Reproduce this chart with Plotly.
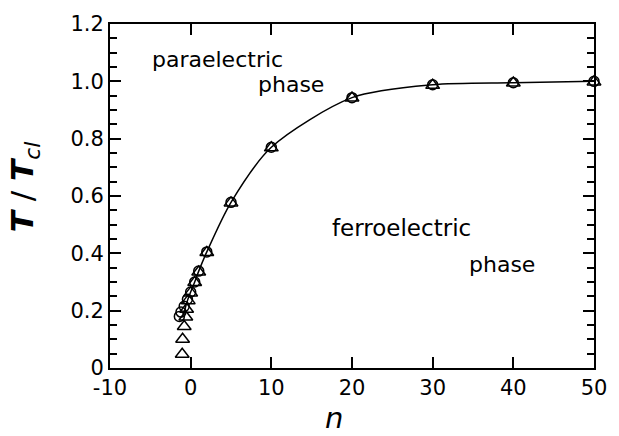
import plotly.graph_objects as go

# data
n_circ = [50, 40, 30, 20, 10, 5, 2, 1, 0.5, 0, -0.4, -0.8, -1.2, -1.4]
t_circ = [1.0, 0.995, 0.988, 0.943, 0.770, 0.578, 0.405, 0.338, 0.300, 0.265, 0.240, 0.215, 0.195, 0.180]
n_tri = [50, 40, 30, 20, 10, 5, 2, 1, 0.5, 0, -0.3, -0.5, -0.6, -0.8, -1.0, -1.05]
t_tri = [0.998, 0.994, 0.986, 0.942, 0.768, 0.576, 0.403, 0.335, 0.298, 0.262, 0.235, 0.205, 0.178, 0.145, 0.100, 0.048]
n_line = [50, 40, 30, 20, 10, 5, 2, 1, 0.5, 0, -0.4, -0.8]
t_line = [1.0, 0.995, 0.988, 0.943, 0.770, 0.578, 0.405, 0.338, 0.300, 0.265, 0.235, 0.195]

xticks = [-10, 0, 10, 20, 30, 40, 50]
yticks = [0, 0.2, 0.4, 0.6, 0.8, 1.0, 1.2]
yticklabels = ["0", "0.2", "0.4", "0.6", "0.8", "1.0", "1.2"]

fig = go.Figure()
fig.add_trace(go.Scatter(x=n_line, y=t_line, mode="lines",
                         line=dict(color="black", width=1.5, shape="spline", smoothing=0.8),
                         showlegend=False, hoverinfo="skip"))
fig.add_trace(go.Scatter(x=n_circ, y=t_circ, mode="markers", cliponaxis=False,
                         marker=dict(symbol="circle-open", size=10, color="black", line=dict(width=1.5)),
                         showlegend=False))
fig.add_trace(go.Scatter(x=n_tri, y=t_tri, mode="markers", cliponaxis=False,
                         marker=dict(symbol="triangle-up-open", size=12, color="black", line=dict(width=1.5)),
                         showlegend=False))

font = "DejaVu Sans, Arial, sans-serif"
for txt, x, y, s in [("paraelectric", -5.1, 1.076, 22), ("phase", 8.1, 0.99, 22),
                     ("ferroelectric", 17.3, 0.487, 23), ("phase", 34.3, 0.361, 22)]:
    fig.add_annotation(x=x, y=y, text=txt, showarrow=False, xanchor="left", yanchor="middle",
                       font=dict(family=font, size=s, color="black"))

# axis titles
fig.add_annotation(xref="paper", yref="paper", x=0.463, y=-0.145, text="<i>n</i>",
                   showarrow=False, xanchor="center", yanchor="middle",
                   font=dict(family=font, size=29, color="black"))
fig.add_annotation(xref="paper", yref="paper", x=-0.176, y=0.525,
                   text="<i><b>T</b></i> / <i><b>T</b><sub>cl</sub></i>", textangle=-90,
                   showarrow=False, xanchor="center", yanchor="middle",
                   font=dict(family=font, size=31, color="black"))

fig.update_layout(
    width=619, height=436,
    margin=dict(l=110, r=13, t=12, b=68),
    paper_bgcolor="white", plot_bgcolor="white",
    font=dict(family=font, color="black"),
    xaxis=dict(range=[-10, 50], tickvals=xticks, ticktext=[str(v) for v in xticks],
               ticks="inside", ticklen=11, tickwidth=2, tickcolor="black",
               showline=True, linewidth=2, linecolor="black", mirror="allticks",
               showgrid=False, zeroline=False, tickfont=dict(size=21)),
    yaxis=dict(range=[0, 1.2], tickvals=yticks, ticktext=yticklabels,
               ticks="inside", ticklen=11, tickwidth=2, tickcolor="black",
               showline=True, linewidth=2, linecolor="black", mirror="allticks",
               showgrid=False, zeroline=False, tickfont=dict(size=21),
               minor=dict(dtick=0.05, ticks="inside", ticklen=7, tickwidth=1.5, tickcolor="black")),
)
fig.write_html("out.html", config={"displayModeBar": False},
               post_script="document.body.style.margin='0';document.body.style.overflow='hidden';")
